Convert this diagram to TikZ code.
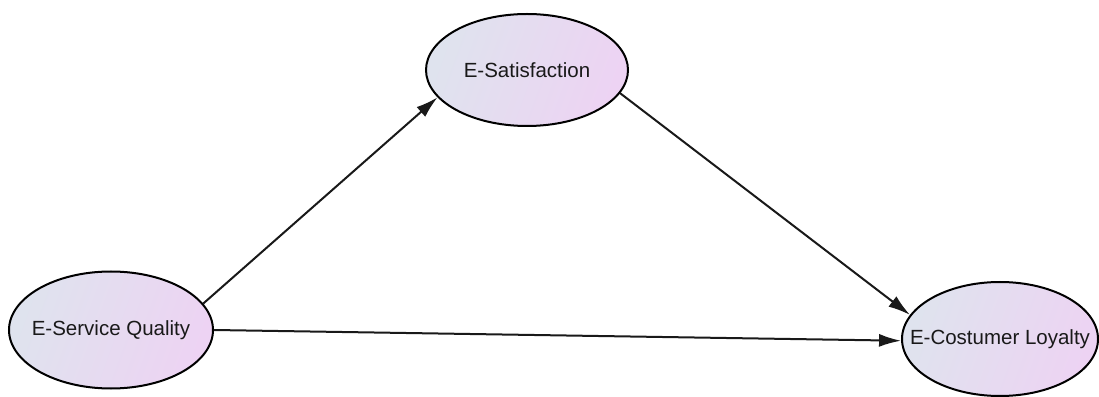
\documentclass[tikz,border=0pt]{standalone}
\usepackage{fontspec}
\setmainfont{Liberation Sans}
\usetikzlibrary{arrows.meta,shapes.geometric}
\definecolor{gl}{HTML}{DFE3EE}
\definecolor{gr}{HTML}{EDD3F3}
\begin{document}
\begin{tikzpicture}[x=1pt,y=1pt,
  latent/.style={ellipse, draw=black, line width=2pt, left color=gl, right color=gr,
    shading angle=70, inner sep=0pt},
  lbl/.style={text=black!90, font=\fontsize{20.5}{24}\selectfont},
  link/.style={line width=2pt, draw=black!90, -{Latex[length=22pt,width=13pt]}}]
\useasboundingbox (0,0) rectangle (1099,396);
\node[latent, minimum width=202pt, minimum height=112pt,
  label={[lbl]center:E-Satisfaction}] (sat) at (527,326) {};
\node[latent, minimum width=204pt, minimum height=117pt,
  label={[lbl]center:E-Service Quality}] (esq) at (111,66) {};
\node[latent, minimum width=196pt, minimum height=114pt,
  label={[lbl]center:E-Costumer Loyalty}] (ecl) at (1000,57) {};
\draw[link] (esq.16) -- (sat.197);
\draw[link] (sat.346) -- (ecl.165);
\draw[link] (esq.0) -- (ecl.181);
\end{tikzpicture}
\end{document}
